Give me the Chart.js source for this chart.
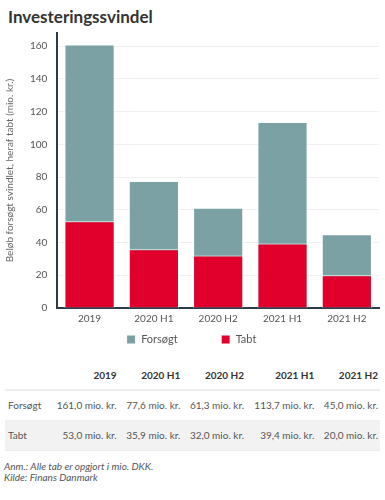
<!DOCTYPE html>
<html>
<head>
<meta charset="utf-8">
<script src="https://cdn.jsdelivr.net/npm/chart.js@4/dist/chart.umd.min.js"></script>
<style>
  body { margin: 0; background: #fff; font-family: Lato, "Noto Sans", sans-serif; color: #333; width: 385px; height: 500px; overflow: hidden; }
  h1 { position: absolute; left: 8px; top: 6px; margin: 0; font-size: 17px; font-weight: bold; color: #333; }
  #wrap { position: absolute; left: 0; top: 17px; width: 385px; height: 338px; }
  table { position: absolute; left: 5px; top: 362px; width: 375px; border-collapse: collapse; font-size: 10px; color: #555; }
  th { text-align: right; font-weight: bold; color: #333; padding: 7px 2px 8px 0; border-bottom: 2px solid #eee; }
  td { text-align: right; padding: 8px 2px 9px 0; border-bottom: 1px solid #eee; white-space: nowrap; }
  td:first-child, th:first-child { text-align: left; padding-left: 3px; }
  tr.alt td { background: #f2f2f2; }
  .note { position: absolute; left: 4px; top: 461px; font-size: 10px; font-style: italic; color: #555; line-height: 11px; }
</style>
</head>
<body>
<h1>Investeringssvindel</h1>
<div id="wrap"><canvas id="chart"></canvas></div>
<table id="tbl"></table>
<div class="note">Anm.: Alle tab er opgjort i mio. DKK.<br>Kilde: Finans Danmark</div>
<script>
// data
const categories = ['2019', '2020 H1', '2020 H2', '2021 H1', '2021 H2'];
const forsoegt = [161.0, 77.6, 61.3, 113.7, 45.0];
const tabt = [53.0, 35.9, 32.0, 39.4, 20.0];
const yTicks = [0, 20, 40, 60, 80, 100, 120, 140, 160];

const colForsoegt = '#7ba1a4';
const colTabt = '#e0002b';

function fmt(v) {
    return v.toFixed(1).replace('.', ',') + ' mio. kr.';
}

// tabel under grafen
function buildTable() {
    const tbl = document.getElementById('tbl');
    let html = '<tr><th></th>' + categories.map(c => '<th>' + c + '</th>').join('') + '</tr>';
    html += '<tr><td>Forsøgt</td>' + forsoegt.map(v => '<td>' + fmt(v) + '</td>').join('') + '</tr>';
    html += '<tr class="alt"><td>Tabt</td>' + tabt.map(v => '<td>' + fmt(v) + '</td>').join('') + '</tr>';
    tbl.innerHTML = html;
}

function initChart() {
    const ctx = document.getElementById('chart').getContext('2d');
    new Chart(ctx, {
        type: 'bar',
        data: {
            labels: categories,
            datasets: [{
                label: 'Forsøgt',
                data: forsoegt,
                backgroundColor: colForsoegt,
                borderColor: '#fff',
                borderWidth: 1,
                barPercentage: 0.78,
                categoryPercentage: 1,
                order: 2
            }, {
                label: 'Tabt',
                data: tabt,
                backgroundColor: colTabt,
                borderColor: '#fff',
                borderWidth: 1,
                barPercentage: 0.78,
                categoryPercentage: 1,
                order: 1
            }]
        },
        options: {
            responsive: true,
            maintainAspectRatio: false,
            animation: false,
            layout: { padding: { left: 4, right: 6, top: 4, bottom: 0 } },
            plugins: {
                legend: {
                    position: 'bottom',
                    labels: {
                        boxWidth: 9,
                        boxHeight: 9,
                        padding: 4,
                        color: '#555',
                        font: { family: 'Lato', size: 11 },
                        sort: (a, b) => a.datasetIndex - b.datasetIndex,
                        // ekstra luft mellem de to poster
                        generateLabels: chart => {
                            const items = Chart.defaults.plugins.legend.labels.generateLabels(chart);
                            items.forEach(it => {
                                if (it.datasetIndex === 0) it.text = it.text + '\u00a0'.repeat(14);
                            });
                            return items;
                        }
                    }
                },
                tooltip: { enabled: false }
            },
            scales: {
                x: {
                    stacked: true,
                    grid: { display: false, drawTicks: false },
                    border: { display: true, color: '#2c3a4a', width: 2 },
                    ticks: { color: '#555', padding: 5, font: { family: 'Lato', size: 10 } }
                },
                y: {
                    stacked: false,
                    min: 0,
                    max: 168,
                    afterBuildTicks: axis => {
                        axis.ticks = yTicks.map(v => ({ value: v }));
                    },
                    grid: { color: '#f0f0f0', drawTicks: false },
                    border: { display: true, color: '#2c3a4a', width: 2 },
                    ticks: { color: '#555', padding: 10, font: { family: 'Lato', size: 10 } },
                    title: {
                        display: true,
                        text: 'Beløb forsøgt svindlet, heraf tabt (mio. kr.)',
                        color: '#666',
                        font: { family: 'Lato', size: 10 },
                        padding: { top: 0, bottom: 4 }
                    }
                }
            }
        }
    });
}

buildTable();
initChart();
</script>
</body>
</html>
